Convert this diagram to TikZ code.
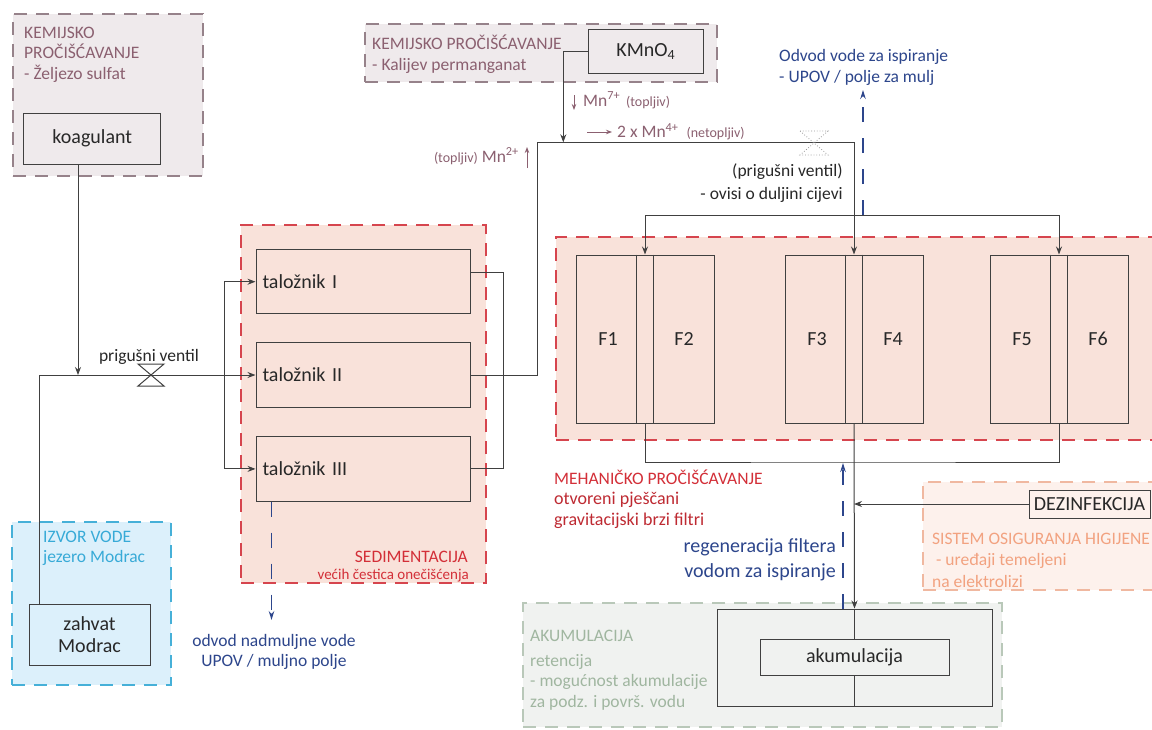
\documentclass[tikz,border=0pt]{standalone}
\usepackage{fontspec}
\setmainfont{Carlito}
\usetikzlibrary{arrows.meta,calc}
\definecolor{lineC}{RGB}{64,64,64}
\definecolor{mauveT}{RGB}{139,96,112}
\definecolor{mauveB}{RGB}{150,130,138}
\definecolor{grayF}{RGB}{239,234,236}
\definecolor{salF}{RGB}{249,226,218}
\definecolor{redB}{RGB}{214,69,78}
\definecolor{redT}{RGB}{211,47,56}
\definecolor{blueT}{RGB}{45,70,140}
\definecolor{cyanF}{RGB}{220,240,251}
\definecolor{cyanB}{RGB}{70,176,216}
\definecolor{cyanT}{RGB}{55,170,215}
\definecolor{greenF}{RGB}{240,242,240}
\definecolor{greenB}{RGB}{185,200,185}
\definecolor{greenT}{RGB}{160,182,160}
\definecolor{peachF}{RGB}{253,241,236}
\definecolor{peachB}{RGB}{240,184,160}
\definecolor{peachT}{RGB}{242,162,128}
\definecolor{darkT}{RGB}{40,40,40}
\tikzset{
  region/.style={rectangle, dash pattern=on 13pt off 9pt, line width=1.3pt, inner sep=0pt},
  box/.style={rectangle, draw=lineC, line width=1pt, inner sep=0pt, font=\fontsize{20}{24}\selectfont, text=darkT},
  pipe/.style={draw=lineC, line width=1pt},
  arr/.style={-{Stealth[length=8pt,width=6pt]}},
  bluedash/.style={draw=blueT, line width=1.1pt, dash pattern=on 15pt off 16pt, -{Stealth[length=9pt,width=5.5pt]}},
  mnarr/.style={draw=mauveT, line width=1pt, -{Stealth[length=6pt,width=4.5pt]}},
  lbl/.style={inner sep=0pt, font=\fontsize{17.5}{20.7}\selectfont, anchor=base west, align=left},
  lblr/.style={inner sep=0pt, font=\fontsize{17.5}{20.7}\selectfont, anchor=base east, align=right},
  flabel/.style={inner sep=0pt, font=\fontsize{20}{24}\selectfont, text=darkT},
  valveshape/.style={draw=lineC, line width=1pt},
}
\begin{document}
\begin{tikzpicture}[x=1pt,y=-1pt]
\useasboundingbox (0,0) rectangle (1152,729);
\clip (0,0) rectangle (1152,729);
\fill[white] (0,0) rectangle (1152,729);

% ---------- regions ----------
\node[region, draw=mauveB, fill=grayF, minimum width=190, minimum height=162] (rkoag) at (108,95) {};
\node[region, draw=mauveB, fill=grayF, minimum width=352, minimum height=58] (rkmno) at (541,53) {};
\node[region, draw=redB, fill=salF, minimum width=245, minimum height=358] (rsed) at (363.5,404) {};
\node[region, draw=redB, fill=salF, minimum width=619, minimum height=203] (rfil) at (865.5,338.5) {};
\node[region, draw=cyanB, fill=cyanF, minimum width=159, minimum height=163] (rizv) at (91.5,603.5) {};
\node[region, draw=greenB, fill=greenF, minimum width=479, minimum height=124] (raku) at (762.5,665) {};
\node[region, draw=peachB, fill=peachF, minimum width=252, minimum height=108] (rhyg) at (1049,536) {};

% ---------- region labels (anchor = baseline of last line) ----------
\node[lbl, text=mauveT] (tkoag) at (24,79.5) {KEMIJSKO\\PROČIŠĆAVANJE\\- Željezo sulfat};
\node[lbl, text=mauveT, font=\fontsize{17.5}{21}\selectfont] (tkmno) at (372,70) {KEMIJSKO PROČIŠĆAVANJE\\- Kalijev permanganat};
\node[lblr, text=redT] (tsed1) at (468,562) {SEDIMENTACIJA};
\node[lblr, text=redT, font=\fontsize{15}{18}\selectfont] (tsed2) at (469,579) {većih čestica onečišćenja};
\node[lbl, text=redT, font=\fontsize{17.5}{20.5}\selectfont] (tfil1) at (554,484) {MEHANIČKO PROČIŠĆAVANJE};
\node[lbl, text=redT!90!black, font=\fontsize{18}{20.5}\selectfont] (tfil2) at (554,525) {otvoreni pješčani\\gravitacijski brzi filtri};
\node[lblr, text=blueT, font=\fontsize{20}{25}\selectfont] (tregen) at (836,577) {regeneracija filtera\\vodom za ispiranje};
\node[lbl, text=blueT, font=\fontsize{17.5}{21}\selectfont] (todvod) at (779,82) {Odvod vode za ispiranje\\- UPOV / polje za mulj};
\node[inner sep=0pt, anchor=base, align=center, text=blueT, font=\fontsize{17.5}{20}\selectfont] (tnadm) at (274,666) {odvod nadmuljne vode\\UPOV / muljno polje};
\node[lbl, text=cyanT, font=\fontsize{17.5}{20.5}\selectfont] (tizv) at (43,562.5) {IZVOR VODE\\jezero Modrac};
\node[lbl, text=greenT] (taku1) at (530,641) {AKUMULACIJA};
\node[lbl, text=greenT, font=\fontsize{17.5}{20.5}\selectfont] (taku2) at (530,707) {retencija\\- mogućnost akumulacije\\za podz. i površ. vodu};
\node[lbl, text=peachT, font=\fontsize{17.5}{21.5}\selectfont] (thyg) at (932,587) {SISTEM OSIGURANJA HIGIJENE\\\ - uređaji temeljeni\\na elektrolizi};
\node[lblr, text=darkT, font=\fontsize{17.5}{23}\selectfont] (tvent2) at (843,199) {(prigušni ventil)\\- ovisi o duljini cijevi};
\node[inner sep=0pt, anchor=base, text=darkT, font=\fontsize{17.5}{20}\selectfont] (tvent1) at (149,361) {prigušni ventil};

% ---------- Mn labels ----------
\node[lbl, text=mauveT] (tmn7) at (583,106) {Mn\textsuperscript{7+}\hspace{6pt}{\fontsize{14}{16}\selectfont(topljiv)}};
\node[lbl, text=mauveT] (tmn4) at (617,137.5) {2 x Mn\textsuperscript{4+}\hspace{8pt}{\fontsize{14}{16}\selectfont(netopljiv)}};
\node[lblr, text=mauveT] (tmn2) at (519,162) {{\fontsize{14}{16}\selectfont(topljiv)} Mn\textsuperscript{2+}};
\draw[mnarr] (574,95) -- (574,110);
\draw[mnarr] (587,132) -- (612,132);
\draw[mnarr] (527,168) -- (527,147);

% ---------- boxes ----------
\node[box, minimum width=137, minimum height=51] (koag) at (92.3,138.5) {koagulant};
\node[box, minimum width=115, minimum height=43.5] (kmno) at (645.8,51.7) {KMnO\textsubscript{4}};
\node[box, minimum width=121, minimum height=61, align=center, font=\fontsize{20}{21.6}\selectfont] (zahvat) at (89.5,634.5) {zahvat\\Modrac};
\node[box, minimum height=64.5, text width=201, inner xsep=6.5pt, align=left] (tal1) at (363,281.7) {taložnik I};
\node[box, minimum height=64.5, text width=201, inner xsep=6.5pt, align=left] (tal2) at (363,375) {taložnik II};
\node[box, minimum height=64.5, text width=201, inner xsep=6.5pt, align=left] (tal3) at (363,468.9) {taložnik III};
\node[box, minimum width=138, minimum height=168] (fa) at (645,339) {};
\node[box, minimum width=138, minimum height=168] (fb) at (854,339) {};
\node[box, minimum width=138, minimum height=168] (fc) at (1059,339) {};
\foreach \g in {fa,fb,fc}{
  \draw[pipe] ([xshift=-8.75pt]\g.north) -- ([xshift=-8.75pt]\g.south);
  \draw[pipe] ([xshift=8.75pt]\g.north) -- ([xshift=8.75pt]\g.south);
}
\node[flabel] (F1) at ([xshift=-37pt]fa.center) {F1};
\node[flabel] (F2) at ([xshift=39pt]fa.center) {F2};
\node[flabel] (F3) at ([xshift=-37pt]fb.center) {F3};
\node[flabel] (F4) at ([xshift=39pt]fb.center) {F4};
\node[flabel] (F5) at ([xshift=-37pt]fc.center) {F5};
\node[flabel] (F6) at ([xshift=39pt]fc.center) {F6};
\node[box, minimum width=275, minimum height=97] (akout) at (854.5,657.5) {};
\node[box, minimum width=189, minimum height=36] (akin) at (854.5,657) {akumulacija};
\node[box, minimum width=121, minimum height=28] (dez) at (1089.5,504) {DEZINFEKCIJA};

% ---------- junction coordinates ----------
\coordinate (c1) at (39,375);
\coordinate (j1) at (78,375);
\coordinate (c2) at (224,375);
\coordinate (c3) at (537.5,142.3);
\coordinate (c4) at (854,142.3);
\coordinate (c5) at (563.3,142.3);
\coordinate (c6) at (854,215);
\coordinate (c7) at (854,462);
\coordinate (b1) at (843,463);
\coordinate (b2) at (863,90);
\coordinate (b3) at (271.5,620);
\coordinate (v1) at (151,375);
\coordinate (v2) at (814,143);

% ---------- pipes ----------
\draw[pipe] (zahvat.north -| c1) -- (c1);
\draw[pipe,arr] (c1) -- (tal2.west);
\draw[pipe,arr] (koag.south -| j1) -- (j1);
\draw[pipe,arr] (c2) |- (tal1.west);
\draw[pipe,arr] (c2) |- (tal3.west);
\draw[pipe] ([yshift=9.5pt]tal1.east) -- ++(33,0) |- (tal3.east);
\draw[pipe,arr] (tal2.east) -| (c3) -- (c4) -- (fb.north);
\draw[pipe,arr] (kmno.west) -| (c5);
\draw[pipe,arr] (c6) -| (fa.north);
\draw[pipe,arr] (c6) -| (fc.north);
\draw[pipe] (fa.south) |- (c7) -| (fc.south);
\draw[pipe,arr] (fb.south) -- (akout.north);
\draw[pipe] (akout.north) -- (akin.north);
\draw[pipe] (akin.south) -- (akout.south);
\draw[pipe,arr] (dez.west) -- (dez.west -| c7);

% ---------- blue flows ----------
\draw[bluedash] (akout.north -| b1) -- (b1);
\draw[bluedash] (c6 -| b2) -- (b2);
\draw[bluedash] (tal3.south -| b3) -- (b3);

% ---------- valves ----------
\draw[valveshape] ($(v1)+(-13,-11)$) -- ($(v1)+(13,-11)$) -- ($(v1)+(-13,11)$) -- ($(v1)+(13,11)$) -- cycle;
\draw[draw=black!40, line width=0.8pt, dotted] ($(v2)+(-14,-12)$) -- ($(v2)+(14,-12)$) -- ($(v2)+(-14,12)$) -- ($(v2)+(14,12)$) -- cycle;
\end{tikzpicture}
\end{document}
